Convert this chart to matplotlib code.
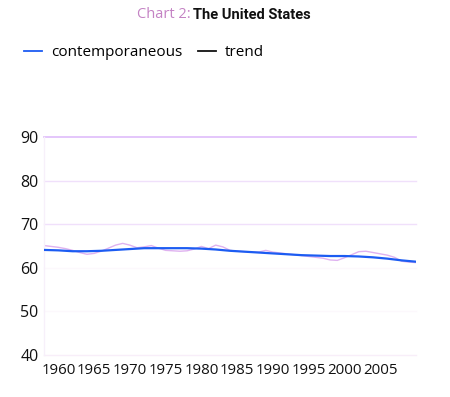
import matplotlib
matplotlib.use("Agg")
import matplotlib.pyplot as plt
from matplotlib.lines import Line2D

plt.rcParams['font.family'] = ['Open Sans', 'DejaVu Sans']

years = list(range(1958, 2011))
contemporaneous = [65.1, 64.9, 64.7, 64.4, 64.0, 63.5, 63.1, 63.3, 63.8, 64.5,
                   65.2, 65.6, 65.2, 64.6, 64.8, 65.1, 64.5, 64.0, 63.9, 63.8,
                   63.9, 64.3, 64.9, 64.4, 65.2, 64.8, 64.0, 63.8, 63.7, 63.6,
                   63.6, 64.0, 63.6, 63.4, 63.2, 63.0, 62.8, 62.6, 62.4, 62.2,
                   61.8, 61.7, 62.3, 63.0, 63.7, 63.8, 63.5, 63.2, 62.9, 62.4,
                   61.5, 61.3, 61.2]
trend_years = list(range(1958, 2011, 2))
trend = [64.1, 64.0, 63.8, 63.8, 63.9, 64.1, 64.3, 64.5, 64.5, 64.5, 64.5, 64.4,
         64.2, 63.9, 63.7, 63.5, 63.3, 63.1, 62.9, 62.8, 62.7, 62.7, 62.6, 62.4,
         62.1, 61.7, 61.4]
xticks = list(range(1960, 2006, 5))
yticks = [40, 50, 60, 70, 80, 90]

fig = plt.figure(figsize=(4.5, 3.97), dpi=100)
ax = fig.add_axes([44/450, 42/397, 372/450, 218/397])

ax.plot(years, contemporaneous, color='#dfb2f0', lw=1.0, zorder=2)
ax.plot(trend_years, trend, color='#1c5cf2', lw=1.6, zorder=3)

ax.set_xlim(1958, 2010)
ax.set_ylim(40, 90)
ax.set_xticks(xticks)
ax.set_yticks(yticks)
ax.tick_params(length=0, colors='#111111')
ax.tick_params(axis='x', pad=6, labelsize=10.8)
ax.tick_params(axis='y', pad=4, labelsize=11.5)

grid_colors = {40: '#f8eef9', 50: '#fcf8fc', 60: '#fcf8fc', 70: '#f0e0fb', 80: '#f0e0fb', 90: '#e2c2fb'}
for y in yticks:
    ax.axhline(y, color=grid_colors[y], lw=1.3 if y == 90 else 1.0, zorder=1, clip_on=False)
for s in ['top', 'right', 'bottom']:
    ax.spines[s].set_visible(False)
ax.spines['left'].set_color('#f7f0fa')
ax.spines['left'].set_linewidth(1.0)

fig.text(191/450, 1 - 15/397, 'Chart 2:', ha='right', va='center',
         color='#c483c4', fontsize=10.5)
fig.text(193/450, 1 - 15/397, 'The United States', ha='left', va='center',
         color='#111111', fontsize=10.5, fontweight='bold', family=['Roboto', 'DejaVu Sans'])

handles = [Line2D([], [], color='#1c5cf2', lw=1.3), Line2D([], [], color='#111111', lw=1.3)]
fig.legend(handles, ['contemporaneous', 'trend'], loc='center left',
           bbox_to_anchor=(10/450, 1 - 53/397), ncol=2, frameon=False,
           fontsize=11, handlelength=1.2, handletextpad=0.6, columnspacing=1.0)

fig.savefig('out.png', dpi=100, facecolor='white')
